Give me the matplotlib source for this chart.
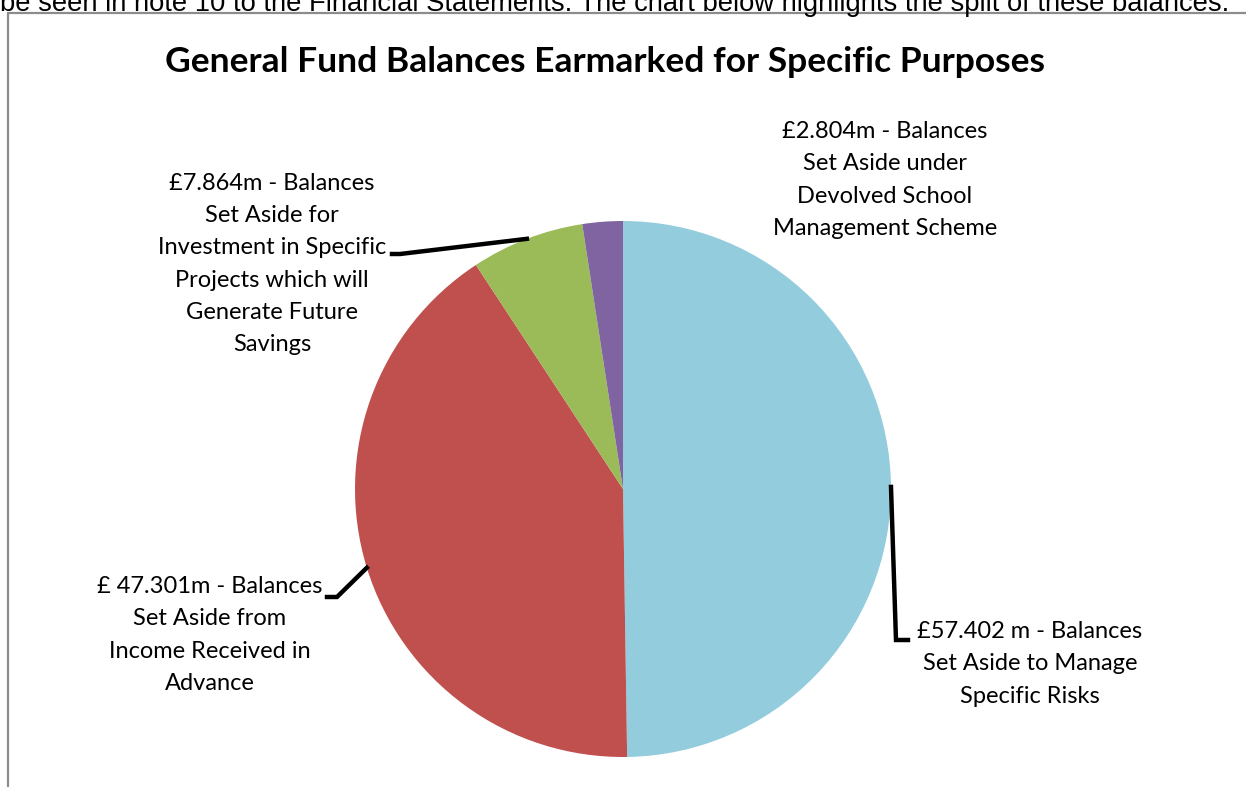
import matplotlib.pyplot as plt
import numpy as np
from matplotlib.patches import Rectangle

values = [57.402, 47.301, 7.864, 2.804]
labels = ["£57.402 m - Balances\nSet Aside to Manage\nSpecific Risks",
          "£ 47.301m - Balances\nSet Aside from\nIncome Received in\nAdvance",
          "£7.864m - Balances\nSet Aside for\nInvestment in Specific\nProjects which will\nGenerate Future\nSavings",
          "£2.804m - Balances\nSet Aside under\nDevolved School\nManagement Scheme"]
colors = ["#93CDDD", "#C0504D", "#9BBB59", "#8064A2"]
title = "General Fund Balances Earmarked for Specific Purposes"
above_text = "be seen in note 10 to the Financial Statements. The chart below highlights the split of these balances."

W, H = 1246, 787
fig = plt.figure(figsize=(W / 100, H / 100), dpi=100)
ax = fig.add_axes([0, 0, 1, 1])

# pie centre / radius in pixel units (y measured from top)
cx, cy, r = 623, H - 489, 268
wedges, _ = ax.pie(values, colors=colors, startangle=90, counterclock=False,
                   center=(cx, cy), radius=r, frame=True,
                   wedgeprops=dict(linewidth=0))
ax.set_xlim(0, W)
ax.set_ylim(0, H)
ax.set_aspect("equal")
ax.axis("off")

def edge(w):
    a = np.deg2rad((w.theta1 + w.theta2) / 2)
    return cx + r * np.cos(a), cy + r * np.sin(a)

lw = 3.2
fs = 17
ls = 1.66
# blue - right
x0, y0 = edge(wedges[0])
ax.plot([x0, x0 + 5, x0 + 17], [y0, H - 640, H - 640], color="black", lw=lw,
        solid_joinstyle="miter")
ax.text(1030, H - 664, labels[0], ha="center", va="center", fontsize=fs,
        family="Lato", linespacing=ls)
# red - left
x0, y0 = edge(wedges[1])
ax.plot([x0, 337, 327], [y0, H - 597, H - 597], color="black", lw=lw,
        solid_joinstyle="miter")
ax.text(210, H - 635, labels[1], ha="center", va="center", fontsize=fs,
        family="Lato", linespacing=ls)
# green - upper left
x0, y0 = edge(wedges[2])
ax.plot([x0, 400, 392], [y0, H - 254, H - 254], color="black", lw=lw,
        solid_joinstyle="miter")
ax.text(272, H - 264, labels[2], ha="center", va="center", fontsize=fs,
        family="Lato", linespacing=ls)
# purple - top right, no leader
ax.text(885, H - 180, labels[3], ha="center", va="center", fontsize=fs,
        family="Lato", linespacing=ls)

ax.text(W / 2 - 18, H - 62, title, ha="center", va="center", fontsize=25.5,
        fontweight="bold", family="Lato")

# frame of the embedded chart
ax.add_patch(Rectangle((8, -20), W + 20, H - 13 + 20, fill=False,
                       edgecolor="#8c8c8c", lw=1.6))
ax.text(0, H - 11, above_text, ha="left", va="baseline", fontsize=19.7,
        family="Liberation Sans")

fig.savefig("out.png", dpi=100)
